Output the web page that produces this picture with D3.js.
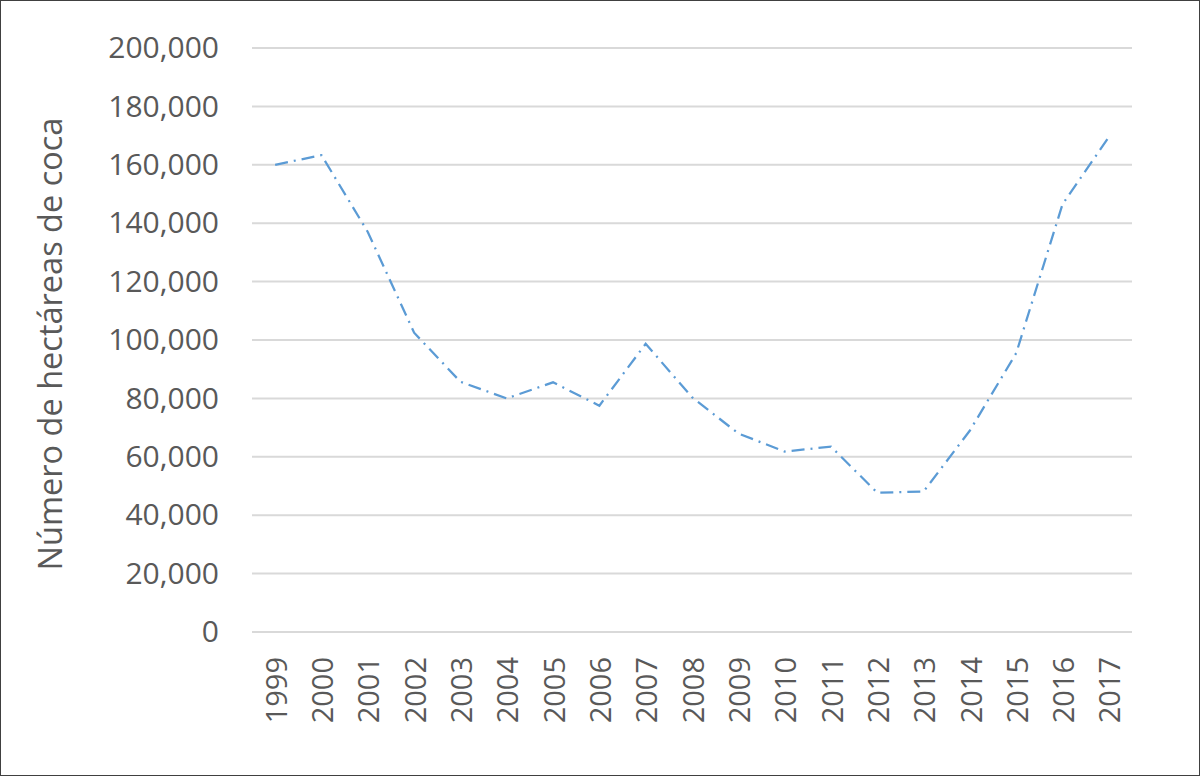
<!DOCTYPE html>
<html>
<head>
<meta charset="utf-8">
<title>Hectáreas de coca</title>
<script src="https://cdn.jsdelivr.net/npm/d3@7"></script>
<style>
  body { margin: 0; background: #fff; }
  svg text { font-family: "Open Sans", sans-serif; fill: #595959; }
  .grid line { stroke: #d9d9d9; stroke-width: 2; }
</style>
</head>
<body>
<svg width="1200" height="776"></svg>
<script>
var years = ['1999', '2000', '2001', '2002', '2003', '2004', '2005', '2006', '2007', '2008',
             '2009', '2010', '2011', '2012', '2013', '2014', '2015', '2016', '2017'];
var hectares = [160000, 163300, 137000, 102500, 85700, 80000, 85500, 77500, 98700, 80400,
                68000, 61800, 63500, 47700, 48100, 69000, 95500, 146500, 169500];
var yTicks = [0, 20000, 40000, 60000, 80000, 100000, 120000, 140000, 160000, 180000, 200000];
var yTitle = 'Número de hectáreas de coca';

var svg = d3.select('svg');
var plotLeft = 252, plotRight = 1132, plotTop = 48, plotBottom = 632;

svg.append('rect')
  .attr('x', 0.5).attr('y', 0.5).attr('width', 1199).attr('height', 775)
  .attr('fill', '#fff').attr('stroke', '#404040').attr('stroke-width', 1);

var x = d3.scaleBand().domain(years).range([plotLeft, plotRight]);
var y = d3.scaleLinear().domain([0, 200000]).range([plotBottom, plotTop]);
var fmt = d3.format(',');

// gridlines
svg.append('g').attr('class', 'grid')
  .selectAll('line').data(yTicks).enter().append('line')
  .attr('x1', plotLeft).attr('x2', plotRight)
  .attr('y1', function(d){ return y(d); })
  .attr('y2', function(d){ return y(d); });

// y axis labels
var yAxis = d3.axisLeft(y).tickValues(yTicks).tickFormat(fmt).tickSize(0).tickPadding(33);
var ya = svg.append('g').attr('transform', 'translate(' + plotLeft + ',0)').call(yAxis);
ya.select('.domain').remove();
ya.selectAll('text').attr('font-size', 30).attr('fill', '#595959')
  .style('font-family', '"Open Sans", sans-serif');

// x axis labels
var xAxis = d3.axisBottom(x).tickSize(0).tickPadding(0);
var xa = svg.append('g').attr('transform', 'translate(0,' + plotBottom + ')').call(xAxis);
xa.select('.domain').remove();
xa.selectAll('text')
  .attr('font-size', 29).attr('fill', '#595959')
  .style('font-family', '"Open Sans", sans-serif')
  .attr('text-anchor', 'end')
  .attr('transform', 'rotate(-90)')
  .attr('x', -25).attr('y', 0).attr('dy', '0.4em').attr('dx', 0);

// y title
svg.append('text')
  .attr('transform', 'translate(62,' + ((plotTop + plotBottom) / 2 + 4) + ') rotate(-90)')
  .attr('text-anchor', 'middle')
  .attr('font-size', 32.5)
  .text(yTitle);

// line
var line = d3.line()
  .x(function(d, i){ return x(years[i]) + x.bandwidth() / 2; })
  .y(function(d){ return y(d); });

svg.append('path')
  .datum(hectares)
  .attr('d', line)
  .attr('fill', 'none')
  .attr('stroke', '#5b9bd5')
  .attr('stroke-width', 2.25)
  .attr('stroke-dasharray', '13,6,2,6');
</script>
</body>
</html>
